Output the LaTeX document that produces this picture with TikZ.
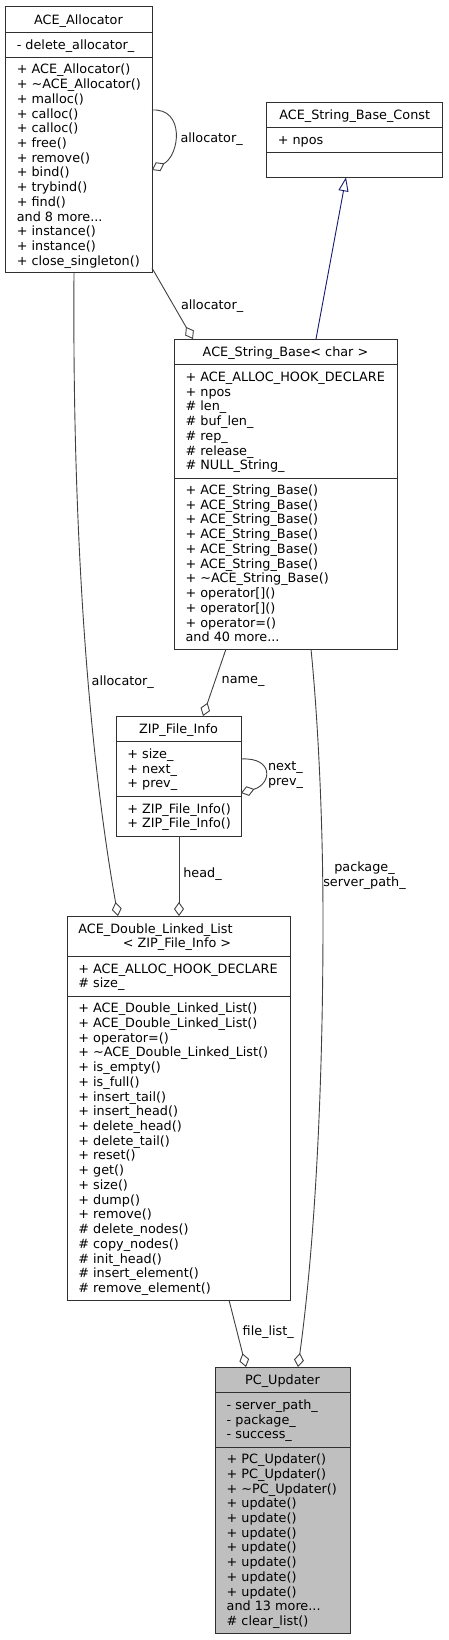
\documentclass[tikz,border=0pt]{standalone}
\usepackage{fontspec}
\setmainfont{DejaVu Sans}
\usetikzlibrary{arrows.meta,fit,calc}
\definecolor{edgegray}{HTML}{404040}
\definecolor{boxedge}{HTML}{303030}
\definecolor{inhblue}{HTML}{191970}
\definecolor{boxgray}{HTML}{BFBFBF}
\newcommand\myrowsep{14.74}
\newcommand\mydots{...}
% prefix, x, ytop, ybot, n, list
\newcommand\crows[6]{%
  \foreach \t [count=\i] in {#6} {%
    \pgfmathsetmacro\yy{(#3+#4)/2+(\i-(#5+1)/2)*\myrowsep+4.6}%
    \node[txt, anchor=base west] (#1-\i) at (#2,\yy) {\t};
  }%
}
% [fill] name x1 y1 x2 y2 sep1 sep2
\newcommand\cbox[8][white]{%
  \node[classbox, fill=#1, fit={(#3,#4) (#5,#6)}] (#2) {};
  \draw[boxline] (#3,#7) -- (#5,#7);
  \draw[boxline] (#3,#8) -- (#5,#8);
}
\begin{document}
\begin{tikzpicture}[x=1pt, y=-1pt,
  txt/.style={inner sep=0, outer sep=0, font=\fontsize{12.8}{14.74}\selectfont, text=black},
  classbox/.style={draw=boxedge, line width=1pt, inner sep=0, outer sep=0},
  boxline/.style={draw=boxedge, line width=1pt},
  edge/.style={draw=edgegray, line width=0.9pt},
  agg/.style={edge, -{Diamond[open, length=14pt, width=10pt]}},
  inh/.style={draw=inhblue, line width=0.9pt, -{Triangle[open, length=14pt, width=10pt]}}]
\useasboundingbox (0,0) rectangle (448,1640);
\fill[white] (0,0) rectangle (448,1640);

% ACE_Allocator
\cbox{alloc}{5}{6.7}{152}{272.7}{32.3}{57.3}
\node[txt, anchor=base] (alloc-t) at (78.5,24.1) {ACE\_Allocator};
\crows{alloc-a}{16.8}{32.3}{57.3}{1}{- delete\_allocator\_}
\crows{alloc-m}{16.8}{57.3}{272.7}{14}{+ ACE\_Allocator(), + \textasciitilde ACE\_Allocator(), + malloc(), + calloc(), + calloc(), + free(), + remove(), + bind(), + trybind(), + find(), and 8 more\mydots, + instance(), + instance(), + close\_singleton()}

% ACE_String_Base_Const
\cbox{asbc}{266.7}{102.3}{442.7}{177.3}{127.3}{152.3}
\node[txt, anchor=base] (asbc-t) at (354.7,119.4) {ACE\_String\_Base\_Const};
\crows{asbc-a}{277.8}{127.3}{152.3}{1}{+ npos}

% ACE_String_Base<char>
\cbox{asb}{174}{339}{397}{649}{364}{478}
\node[txt, anchor=base] (asb-t) at (285.5,356.1) {ACE\_String\_Base< char >};
\crows{asb-a}{185.6}{364}{478}{7}{+ ACE\_ALLOC\_HOOK\_DECLARE, + npos, \# len\_, \# buf\_len\_, \# rep\_, \# release\_, \# NULL\_String\_}
\crows{asb-m}{185.6}{478}{649}{11}{+ ACE\_String\_Base(), + ACE\_String\_Base(), + ACE\_String\_Base(), + ACE\_String\_Base(), + ACE\_String\_Base(), + ACE\_String\_Base(), + \textasciitilde ACE\_String\_Base(), + operator[](), + operator[](), + operator=(), and 40 more\mydots}

% ZIP_File_Info
\cbox{zip}{116}{716}{241}{836}{741}{796}
\node[txt, anchor=base] (zip-t) at (178.5,733.1) {ZIP\_File\_Info};
\crows{zip-a}{127.4}{741}{796}{3}{+ size\_, + next\_, + prev\_}
\crows{zip-m}{127.4}{796}{836}{2}{+ ZIP\_File\_Info(), + ZIP\_File\_Info()}

% ACE_Double_Linked_List<ZIP_File_Info>
\cbox{dll}{67}{916}{290}{1300}{956}{996}
\node[txt, anchor=base west] (dll-t1) at (78.4,933.0) {ACE\_Double\_Linked\_List};
\node[txt, anchor=base] (dll-t2) at (177,947.5) {< ZIP\_File\_Info >};
\crows{dll-a}{78.4}{956}{996}{2}{+ ACE\_ALLOC\_HOOK\_DECLARE, \# size\_}
\crows{dll-m}{78.4}{996}{1300}{20}{+ ACE\_Double\_Linked\_List(), + ACE\_Double\_Linked\_List(), + operator=(), + \textasciitilde ACE\_Double\_Linked\_List(), + is\_empty(), + is\_full(), + insert\_tail(), + insert\_head(), + delete\_head(), + delete\_tail(), + reset(), + get(), + size(), + dump(), + remove(), \# delete\_nodes(), \# copy\_nodes(), \# init\_head(), \# insert\_element(), \# remove\_element()}

% PC_Updater
\cbox[boxgray]{pc}{215}{1367}{350}{1633}{1392}{1447}
\node[txt, anchor=base] (pc-t) at (282.5,1384.1) {PC\_Updater};
\crows{pc-a}{226.7}{1392}{1447}{3}{- server\_path\_, - package\_, - success\_}
\crows{pc-m}{226.7}{1447}{1633}{12}{+ PC\_Updater(), + PC\_Updater(), + \textasciitilde PC\_Updater(), + update(), + update(), + update(), + update(), + update(), + update(), + update(), and 13 more\mydots, \# clear\_list()}

% connectors
\draw[agg] ([yshift=-103.3pt]alloc.north east) .. controls (185,108) and (180,155) .. ([yshift=-163.3pt]alloc.north east);
\node[txt, anchor=west] (lbl-self) at (180.5,139) {allocator\_};

\draw[agg] ([yshift=4.7pt]alloc.south east) -- ([xshift=19pt]asb.north west);
\node[txt, anchor=west] (lbl-alloc2) at (181,305.7) {allocator\_};

\draw[inh] ([xshift=142pt]asb.north west) -- ([xshift=79.3pt]asbc.south west);

\draw[agg] ([xshift=69pt]alloc.south west) .. controls (72,560) and (92,770) .. ([xshift=51pt]dll.north west);
\node[txt, anchor=west] (lbl-alloc3) at (91.7,681.7) {allocator\_};

\draw[agg] ([xshift=52pt]asb.south west) -- ([xshift=87pt]zip.north west);
\node[txt, anchor=west] (lbl-name) at (221.7,681.7) {name\_};

\draw[agg] ([yshift=-43pt]zip.north east) .. controls (274,757) and (272,784) .. ([yshift=-77pt]zip.north east);
\node[txt, align=center, font=\fontsize{12.8}{15}\selectfont] (lbl-next) at (285.5,775.5) {next\_\\prev\_};

\draw[agg] ([xshift=63pt]zip.south west) -- ([xshift=112pt]dll.north west);
\node[txt, anchor=west] (lbl-head) at (183.3,874.3) {head\_};

\draw[agg] ([xshift=137pt]asb.south west) .. controls (318,720) and (323,820) .. (323,920) .. controls (323,1100) and (314,1250) .. ([xshift=83pt]pc.north west);
\node[txt, align=center, font=\fontsize{12.8}{15}\selectfont] (lbl-pkg) at (364.5,875.5) {package\_\\server\_path\_};

\draw[agg] ([xshift=162pt]dll.south west) -- ([xshift=31pt]pc.north west);
\node[txt, anchor=west] (lbl-file) at (242.7,1332.3) {file\_list\_};
\end{tikzpicture}
\end{document}
